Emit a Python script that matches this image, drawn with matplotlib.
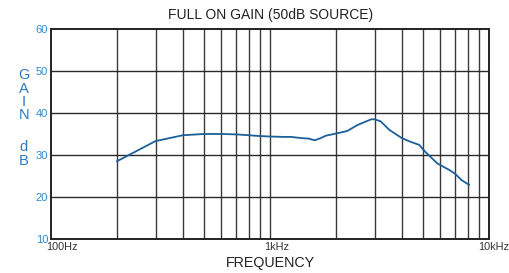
import matplotlib
matplotlib.use('Agg')
import matplotlib.pyplot as plt
from matplotlib.ticker import FixedLocator, NullFormatter

plt.rcParams['font.family'] = ['Liberation Sans', 'DejaVu Sans']

# Gain curve
freq = [200, 300, 400, 500, 600, 700, 800, 900, 1000, 1150, 1250, 1400, 1500,
        1600, 1700, 1800, 2000, 2250, 2500, 2900, 3000, 3200, 3500, 4000, 4350,
        4800, 5100, 5800, 6600, 7000, 7500, 8100]
gain = [28.5, 33.3, 34.7, 35.0, 35.0, 34.9, 34.7, 34.5, 34.4, 34.3, 34.3, 34.0,
        33.9, 33.5, 34.0, 34.6, 35.1, 35.7, 37.1, 38.5, 38.5, 38.0, 36.0, 34.0,
        33.2, 32.4, 30.8, 28.0, 26.4, 25.5, 24.0, 22.9]

y_ticks = [10, 20, 30, 40, 50, 60]
x_ticks = [100, 1000, 10000]
x_labels = ['100Hz', '1kHz', '10kHz']
minor_freqs = [m * d for d in (100, 1000) for m in range(2, 10)]

fig = plt.figure(figsize=(5.1, 2.73), dpi=100)
ax = fig.add_axes([0.1, 0.1245, 0.859, 0.7695])

ax.plot(freq, gain, color='#1c5f99', lw=1.3, zorder=3)

ax.set_xscale('log')
ax.set_xlim(100, 10000)
ax.set_ylim(10, 60)

# grid lines
for f in minor_freqs + [1000]:
    ax.axvline(f, color='#3a3a3a', lw=1.0, zorder=1)
for g in y_ticks[1:-1]:
    ax.axhline(g, color='#2a2a2a', lw=1.0, zorder=1)

for s in ax.spines.values():
    s.set_color('#222222')
    s.set_linewidth(1.4)

ax.xaxis.set_major_locator(FixedLocator(x_ticks))
ax.xaxis.set_minor_formatter(NullFormatter())
ax.set_xticklabels([])
ax.set_yticks(y_ticks)
ax.set_yticklabels([str(v) for v in y_ticks], color='#2f86c8', fontsize=8)
ax.tick_params(axis='both', which='both', length=0)
ax.tick_params(axis='y', pad=2)

# x labels sit a little right of their gridline, as in the reference
for xpos, lab in zip([0.025, 0.514, 1.011], x_labels):
    ax.text(xpos, -0.015, lab, transform=ax.transAxes,
            ha='center', va='top', fontsize=7.8, color='#333333')

fig.text(0.53, 0.945, 'FULL ON GAIN (50dB SOURCE)', ha='center', va='center',
         fontsize=10, color='#222222')
fig.text(0.53, 0.035, 'FREQUENCY', ha='center', va='center',
         fontsize=10.3, color='#222222')

letters = ['G', 'A', 'I', 'N', 'd', 'B']
ys = [75, 89, 102, 115, 147, 161]
for ch, yp in zip(letters, ys):
    fig.text(24 / 510, 1 - yp / 273, ch, ha='center', va='center',
             fontsize=10.5, color='#2b78bd')

fig.savefig('out.png', dpi=100)
